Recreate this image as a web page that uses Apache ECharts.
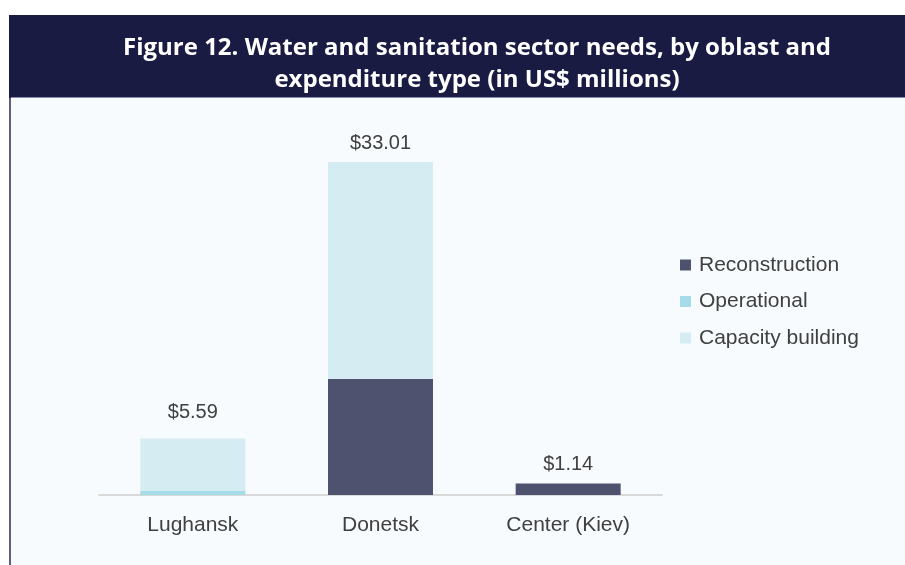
<!DOCTYPE html>
<html>
<head>
<meta charset="utf-8">
<script src="https://cdn.jsdelivr.net/npm/echarts@6/dist/echarts.min.js"></script>
<style>
  html, body { margin: 0; padding: 0; background: #ffffff; }
  #chart { width: 905px; height: 565px; }
</style>
</head>
<body>
<div id="chart"></div>
<script>
// Oblasts on the category axis
const categories = ['Lughansk', 'Donetsk', 'Center (Kiev)'];

// Needs by expenditure type, US$ millions
const reconstruction = [0, 11.5, 1.14];
const operational = [0.4, 0, 0];
const capacityBuilding = [5.19, 21.51, 0];

const seriesNames = ['Reconstruction', 'Operational', 'Capacity building'];
const seriesColors = ['#4f526f', '#a5dce7', '#d5edf2'];

const stacks = [reconstruction, operational, capacityBuilding];

// Gap between each column top and its total label
const labelDistance = [16, 9, 9];

// Stack totals, shown above each column
const totals = categories.map((_, i) => stacks.reduce((s, arr) => s + arr[i], 0));

// Index of the topmost non-empty segment in each column
const topIndex = categories.map((_, i) => {
  let top = 0;
  stacks.forEach((arr, k) => { if (arr[i] > 0) top = k; });
  return top;
});

const textColor = '#404040';
const baseFont = '"Liberation Sans", Arial, sans-serif';

const series = stacks.map((arr, k) => ({
  name: seriesNames[k],
  type: 'bar',
  stack: 'needs',
  barWidth: 105,
  itemStyle: { color: seriesColors[k] },
  emphasis: { disabled: true },
  data: arr.map((v, i) => ({
    value: v,
    label: {
      show: topIndex[i] === k,
      position: 'top',
      distance: labelDistance[i],
      formatter: () => '$' + totals[i].toFixed(2),
      color: textColor,
      fontSize: 20,
      fontFamily: baseFont
    }
  }))
}));

const chart = echarts.init(document.getElementById('chart'), null, { renderer: 'canvas' });

chart.setOption({
  animation: false,
  backgroundColor: '#ffffff',
  graphic: [
    // plot panel
    { type: 'rect', z: -10, shape: { x: 9, y: 98, width: 896, height: 467 }, style: { fill: '#f7fbfd' } },
    // left rule
    { type: 'rect', z: -9, shape: { x: 9, y: 15, width: 2, height: 550 }, style: { fill: '#5c6083' } },
    // header band
    { type: 'rect', z: -8, shape: { x: 9, y: 15, width: 896, height: 83 }, style: { fill: '#1a1b42' } },
    { type: 'rect', z: -8, shape: { x: 11, y: 97, width: 894, height: 1 }, style: { fill: '#8a8fae' } }
  ],
  title: {
    text: 'Figure 12. Water and sanitation sector needs, by oblast and\nexpenditure type (in US$ millions)',
    left: 472,
    textAlign: 'center',
    top: 27,
    textStyle: {
      color: '#ffffff',
      fontFamily: '"Open Sans", sans-serif',
      fontWeight: 'bold',
      fontSize: 24,
      lineHeight: 32
    }
  },
  legend: {
    orient: 'vertical',
    left: 675,
    top: 248,
    itemWidth: 11,
    itemHeight: 11,
    itemGap: 12.5,
    icon: 'rect',
    selectedMode: false,
    data: seriesNames,
    textStyle: { color: textColor, fontSize: 21, fontFamily: baseFont, lineHeight: 24, padding: [0, 0, 0, 3] }
  },
  grid: { left: 99, right: 243, top: 142, bottom: 70, containLabel: false },
  xAxis: {
    type: 'category',
    data: categories,
    axisLine: { lineStyle: { color: '#d9d9d9', width: 2 } },
    axisTick: { show: false },
    axisLabel: { color: textColor, fontSize: 21, fontFamily: baseFont, margin: 20 }
  },
  yAxis: {
    type: 'value',
    min: 0,
    max: 35,
    show: false,
    splitLine: { show: false }
  },
  series: series
});
</script>
</body>
</html>
